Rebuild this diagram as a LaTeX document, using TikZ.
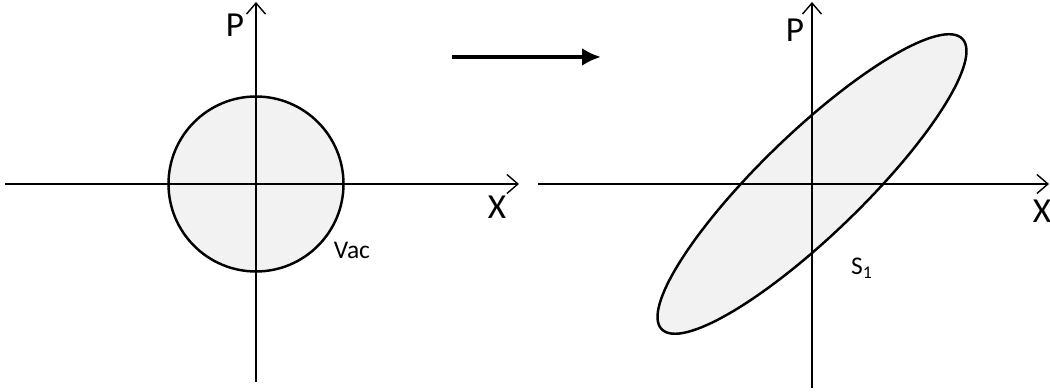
\documentclass[tikz,border=0pt]{standalone}
\usepackage{fontspec}
\setmainfont{Carlito}
\usetikzlibrary{positioning, shapes.geometric, arrows.meta}

\definecolor{statefill}{HTML}{F2F2F2}

\begin{document}
\begin{tikzpicture}[
  x=0.2mm, y=0.2mm,
  axis/.style={line width=0.8pt, -{Straight Barb[length=2.2mm, width=3.8mm]}},
  state/.style={draw, line width=1.4pt, fill=statefill, inner sep=0pt},
  biglabel/.style={font=\fontsize{20}{22}\selectfont, inner sep=0pt},
  smalllabel/.style={font=\fontsize{14.5}{16}\selectfont, inner sep=0pt},
  mapsto/.style={line width=2.3pt, -{Latex[length=3.8mm, width=3.6mm]}}
]
\useasboundingbox (0,0) rectangle (1050,392);

% --- left: vacuum state ---
\coordinate (o1) at (256,208);
\node[state, circle, minimum size=175*0.2mm] (vac) at (o1) {};
\coordinate (x1a) at (5,208);
\coordinate (x1b) at (519,208);
\coordinate (p1a) at (256,10);
\coordinate (p1b) at (256,390);
\draw[axis] (x1a) -- (x1b);
\draw[axis] (p1a) -- (p1b);
\node[biglabel] (xlab1) at (497,185) {X};
\node[biglabel] (plab1) at (235,367) {P};
\node[smalllabel] (vaclab) at (352,142) {Vac};

% --- map arrow ---
\coordinate (ma) at (452,335);
\coordinate (mb) at (601,335);
\draw[mapsto] (ma) -- (mb);

% --- right: squeezed state ---
\coordinate (o2) at (812,208);
\node[state, ellipse, rotate=44, minimum width=418*0.2mm, minimum height=102*0.2mm] (sq) at (o2) {};
\coordinate (x2a) at (538,208);
\coordinate (x2b) at (1049,208);
\coordinate (p2a) at (812,4);
\coordinate (p2b) at (812,390);
\draw[axis] (x2a) -- (x2b);
\draw[axis] (p2a) -- (p2b);
\node[biglabel] (xlab2) at (1042,181) {X};
\node[biglabel] (plab2) at (795,362) {P};
\node[smalllabel] (slab) at (862,124) {S\textsubscript{1}};

\end{tikzpicture}
\end{document}
